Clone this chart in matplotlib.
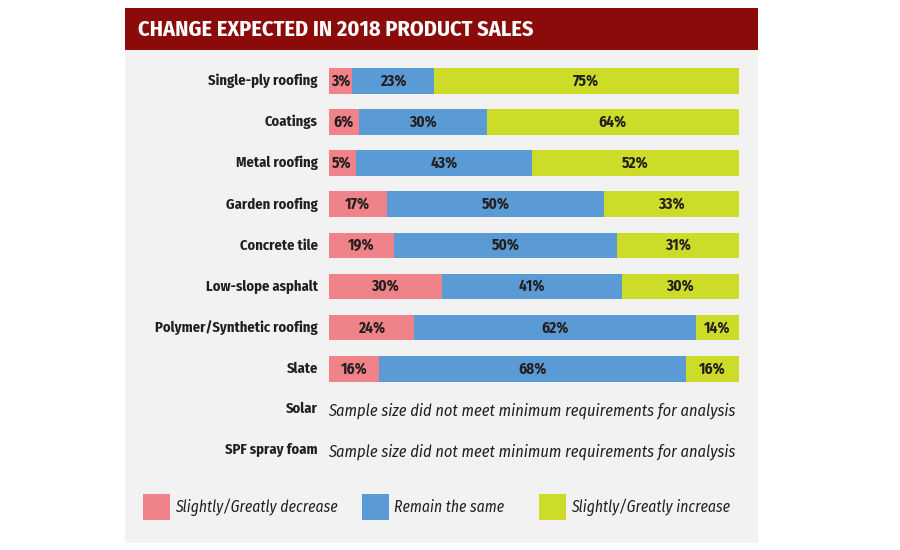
import matplotlib
matplotlib.use('Agg')
import matplotlib.pyplot as plt
from matplotlib import font_manager
from matplotlib.patches import Rectangle

# Data: labelled percentages
categories = ['Single-ply roofing', 'Coatings', 'Metal roofing', 'Garden roofing',
              'Concrete tile', 'Low-slope asphalt', 'Polymer/Synthetic roofing', 'Slate']
decrease = [3, 6, 5, 17, 19, 30, 24, 16]
same = [23, 30, 43, 50, 50, 41, 62, 68]
increase = [75, 64, 52, 33, 31, 30, 14, 16]
# segment lengths as drawn in the original (share of bar)
decrease_bar = [5.8, 7.5, 6.6, 14.2, 16.0, 27.6, 20.9, 12.3]
same_bar = [19.9, 31.1, 43.1, 53.0, 54.3, 43.9, 68.8, 75.0]
increase_bar = [74.3, 61.4, 50.3, 32.8, 29.7, 28.5, 10.3, 12.7]
no_data = ['Solar', 'SPF spray foam']
no_data_note = 'Sample size did not meet minimum requirements for analysis'
series_names = ['Slightly/Greatly decrease', 'Remain the same', 'Slightly/Greatly increase']

colors = ['#F0838A', '#5B9BD5', '#CDDC29']
bg = '#F2F2F2'
title_red = '#8B0A0A'
dark = '#231F20'

# pick a condensed face close to the original
names = {f.name for f in font_manager.fontManager.ttflist}
wanted = ['Fira Sans Condensed', 'Roboto Condensed', 'Barlow Semi Condensed', 'Archivo Narrow',
          'Open Sans Condensed', 'Liberation Sans Narrow', 'Asap Condensed', 'PT Sans Narrow',
          'IBM Plex Sans Condensed', 'Encode Sans Condensed', 'Ubuntu Condensed', 'Barlow Condensed']
narrow = next((n for n in wanted if n in names), 'DejaVu Sans')
fam = [narrow, 'DejaVu Sans']

fig = plt.figure(figsize=(9, 5.5), dpi=100)
fig.patch.set_facecolor('white')

W, H = 900, 550
def fx(px):
    return px / W
def fy(py):
    return 1 - py / H

# gray panel and title bar
fig.patches.append(Rectangle((fx(125), fy(543)), fx(758) - fx(125), fy(8) - fy(543),
                             transform=fig.transFigure, facecolor=bg, edgecolor='none', zorder=0))
fig.patches.append(Rectangle((fx(125), fy(50)), fx(758) - fx(125), fy(8) - fy(50),
                             transform=fig.transFigure, facecolor=title_red, edgecolor='none', zorder=1))
fig.text(fx(138), fy(30), 'CHANGE EXPECTED IN 2018 PRODUCT SALES', color='white',
         fontsize=16, fontweight='bold', family=fam, va='center', ha='left', zorder=2)

# bars axes: rows 0..9 at 41.1px spacing, row 0 centred at y=81
step = 41.1
top = 81 - step / 2
bottom = 81 + 9 * step + step / 2
ax = fig.add_axes([fx(328.5), fy(bottom), fx(738.5) - fx(328.5), fy(top) - fy(bottom)])
ax.set_zorder(3)
ax.set_facecolor('none')
ax.set_xlim(0, 1)
ax.set_ylim(9.5, -0.5)
ax.axis('off')

for i, cat in enumerate(categories):
    labels = [decrease[i], same[i], increase[i]]
    widths = [decrease_bar[i], same_bar[i], increase_bar[i]]
    total = sum(widths)
    left = 0
    for v, wv, c in zip(labels, widths, colors):
        w = wv / total
        ax.barh(i, w, left=left, height=0.625, color=c, edgecolor='none')
        ax.text(left + w / 2, i, f'{v}%', ha='center', va='center', fontsize=11,
                fontweight='bold', color=dark, family=fam)
        left += w
    ax.text(-0.026, i, cat, ha='right', va='center', fontsize=10.5, fontweight='bold',
            color=dark, family=fam, clip_on=False)

for j, name in enumerate(no_data):
    row = len(categories) + j
    ax.text(-0.026, row - 0.02, name, ha='right', va='center', fontsize=10.5, fontweight='bold',
            color=dark, family=fam, clip_on=False)
    ax.text(0.0, row + 0.02, no_data_note, ha='left', va='center', fontsize=11.75,
            style='italic', color=dark, family=fam, clip_on=False)

# legend
leg_x = [143, 362, 539]
for x0, c, name in zip(leg_x, colors, series_names):
    fig.patches.append(Rectangle((fx(x0), fy(520)), fx(27), fy(494) - fy(520),
                                 transform=fig.transFigure, facecolor=c, edgecolor='none', zorder=2))
    fig.text(fx(x0 + 32), fy(507), name, ha='left', va='center', fontsize=11.25,
             style='italic', color=dark, family=fam, zorder=3)

plt.savefig('out.png', dpi=100, facecolor='white')
